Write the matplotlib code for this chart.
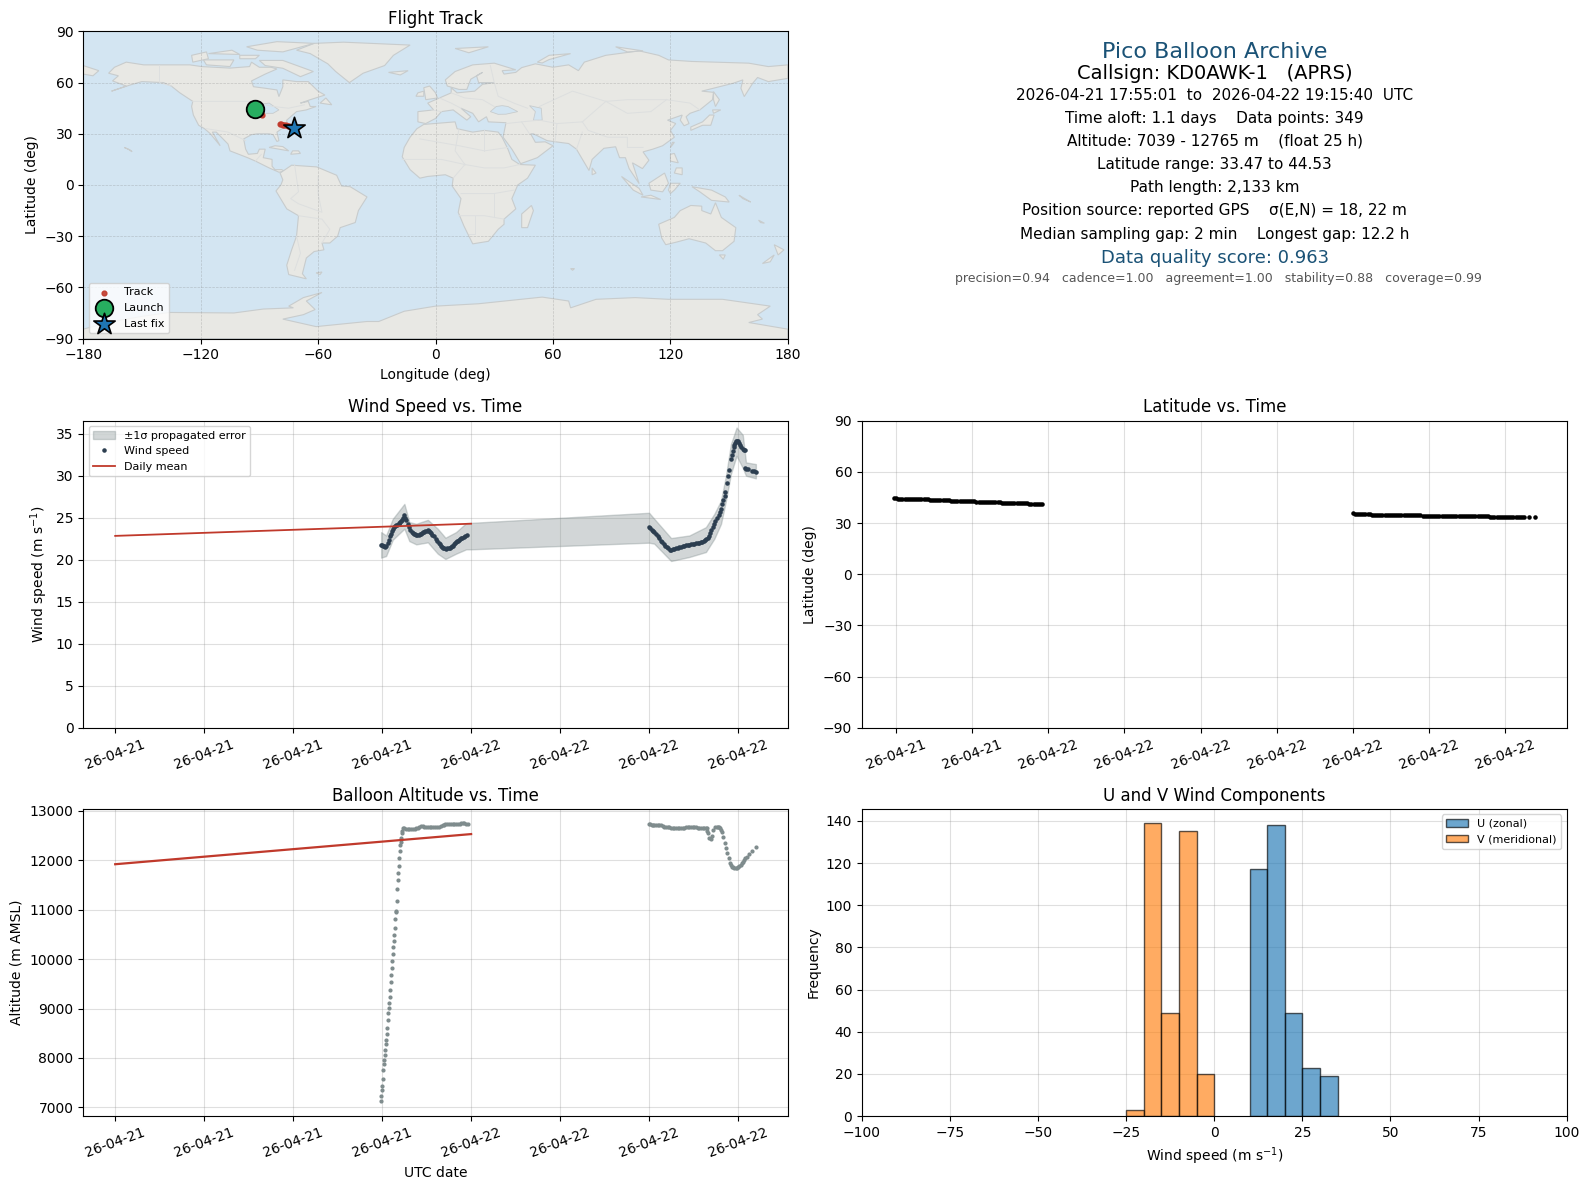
import matplotlib
matplotlib.use('Agg')
import matplotlib.pyplot as plt
import matplotlib.dates as mdates
from datetime import datetime, timedelta

# time is given in minutes after 2026-04-21 18:00 UTC
base = datetime(2026, 4, 21, 18, 0)
midnight_21 = datetime(2026, 4, 21)
midnight_22 = datetime(2026, 4, 22)

# wind speed
wind_t = [-5, -1, 3, 8, 13, 17, 22, 26, 30, 34,
          39, 44, 50, 54, 58, 62, 67, 70, 74, 78,
          81, 85, 90, 94, 98, 103, 108, 114, 119, 123,
          128, 133, 138, 143, 148, 153, 158, 162, 167, 171,
          175, 181, 187, 191, 195, 199, 202, 209, 216, 222,
          229, 233, 237, 241, 245, 251, 257, 263, 270, 274,
          278, 282, 286, 290, 294, 298, 302, 306, 310, 314,
          319, 324, 330, 336, 342,
          1080, 1085, 1091, 1096, 1101, 1108, 1115, 1121, 1128, 1134,
          1140, 1146, 1152, 1158, 1165, 1170, 1176, 1182, 1189, 1196,
          1203, 1210, 1216, 1223, 1230, 1236, 1243, 1250, 1256, 1263,
          1270, 1276, 1283, 1290, 1296, 1301, 1306, 1312, 1317, 1322,
          1328, 1332, 1337, 1342, 1348, 1355, 1361, 1366, 1371, 1376,
          1380, 1386, 1388, 1394, 1398, 1403, 1410, 1414, 1418, 1422,
          1425, 1428, 1432, 1435, 1438, 1443, 1448, 1453, 1459, 1464,
          1469, 1470, 1474, 1479, 1496, 1504, 1512]
wind_v = [21.8, 21.75, 21.7, 21.6, 21.5, 21.7, 22.0, 22.4, 22.8, 23.1,
          23.4, 23.65, 23.9, 24.0, 24.1, 24.2, 24.3, 24.4, 24.5, 24.6,
          24.75, 25.0, 25.3, 25.0, 24.7, 24.3, 23.9, 23.6, 23.3, 23.2,
          23.1, 23.05, 23.0, 23.0, 23.0, 23.05, 23.1, 23.2, 23.3, 23.35,
          23.4, 23.45, 23.5, 23.4, 23.3, 23.15, 23.0, 22.8, 22.5, 22.3,
          22.0, 21.85, 21.7, 21.55, 21.4, 21.35, 21.3, 21.35, 21.4, 21.45,
          21.5, 21.6, 21.7, 21.85, 22.0, 22.1, 22.2, 22.3, 22.4, 22.5,
          22.6, 22.65, 22.75, 22.8, 22.9,
          23.9, 23.75, 23.6, 23.45, 23.3, 23.05, 22.8, 22.55, 22.3, 22.1,
          21.9, 21.7, 21.5, 21.35, 21.2, 21.2, 21.25, 21.3, 21.35, 21.45,
          21.5, 21.55, 21.65, 21.7, 21.75, 21.8, 21.8, 21.85, 21.9, 21.9,
          21.95, 22.0, 22.0, 22.1, 22.15, 22.2, 22.35, 22.5, 22.6, 22.85,
          23.2, 23.5, 23.9, 24.25, 24.6, 24.95, 25.3, 25.7, 26.1, 26.6,
          27.1, 27.6, 28.1, 29.2, 30.0, 30.7, 32.0, 32.5, 33.0, 33.4,
          33.7, 33.9, 34.1, 34.1, 34.1, 33.9, 33.7, 33.45, 33.2, 33.1,
          33.1, 30.9, 30.85, 30.8, 30.6, 30.55, 30.5]
band_t = [-4, 16, 43, 90, 110, 138, 185, 225, 256, 299, 340, 360,
          1080, 1101, 1169, 1243, 1310, 1344, 1371, 1391, 1411, 1434, 1459, 1472, 1512]
band_low = [20.26, 20.45, 22.39, 23.7, 22.23, 21.84, 22.08, 20.73, 20.1, 20.73, 21.25, 21.25,
            22.04, 21.92, 19.86, 20.34, 20.93, 22.51, 24.29, 27.06, 30.22, 32.39, 30.93, 30.02, 29.7]
band_high = [23.3, 22.9, 24.88, 26.66, 24.49, 24.29, 24.76, 23.7, 22.63, 23.3, 24.37, 24.4,
             25.6, 24.88, 22.59, 22.9, 23.89, 25.47, 27.06, 30.02, 33.77, 35.75, 34.88, 31.6, 31.4]
wind_daily = [22.85, 24.3]

# latitude
lat_t = [-5, 0, 5, 10, 15, 20, 25, 30, 35, 40,
         45, 50, 55, 60, 65, 70, 75, 80, 85, 90,
         95, 100, 105, 110, 115, 120, 125, 130, 135, 140,
         145, 150, 155, 160, 165, 170, 175, 180, 185, 190,
         195, 200, 205, 210, 215, 220, 225, 230, 235, 240,
         245, 250, 255, 260, 265, 270, 275, 280, 285, 290,
         295, 300, 305, 310, 315, 320, 325, 330, 335, 340,
         345,
         1080, 1085, 1090, 1095, 1100, 1105, 1110, 1115, 1120, 1125,
         1130, 1135, 1140, 1145, 1150, 1155, 1160, 1165, 1170, 1175,
         1180, 1185, 1190, 1195, 1200, 1205, 1210, 1215, 1220, 1225,
         1230, 1235, 1240, 1245, 1250, 1255, 1260, 1265, 1270, 1275,
         1280, 1285, 1290, 1295, 1300, 1305, 1310, 1315, 1320, 1325,
         1330, 1335, 1340, 1345, 1350, 1355, 1360, 1365, 1370, 1375,
         1380, 1385, 1390, 1395, 1400, 1405, 1410, 1415, 1420, 1425,
         1430, 1435, 1440, 1445, 1450, 1455, 1460, 1465, 1470, 1475,
         1480, 1484, 1497, 1510]
lat_v = [44.53, 44.4, 44.2, 44.2, 44.2, 44.2, 44.2, 44.1, 44.1, 44.1,
         44.1, 44.1, 44.1, 44.1, 44.1, 44.1, 44.0, 43.6, 43.6, 43.6,
         43.6, 43.6, 43.6, 43.6, 43.5, 43.5, 43.5, 43.1, 43.0, 43.0,
         43.0, 43.0, 43.0, 43.0, 43.0, 43.0, 42.9, 42.9, 42.9, 42.6,
         42.4, 42.4, 42.4, 42.4, 42.4, 42.4, 42.4, 42.4, 42.4, 42.4,
         42.2, 41.9, 41.8, 41.8, 41.8, 41.8, 41.8, 41.8, 41.8, 41.8,
         41.8, 41.8, 41.8, 41.5, 41.3, 41.2, 41.2, 41.2, 41.2, 41.2,
         41.1,
         35.6, 35.5, 35.5, 35.5, 35.5, 35.5, 35.5, 35.5, 35.2, 34.9,
         34.9, 34.9, 34.9, 34.9, 34.9, 34.9, 34.9, 34.9, 34.9, 34.9,
         34.9, 34.9, 34.9, 34.9, 34.9, 34.9, 34.9, 34.9, 34.9, 34.9,
         34.9, 34.8, 34.5, 34.3, 34.3, 34.3, 34.3, 34.3, 34.3, 34.3,
         34.3, 34.3, 34.3, 34.3, 34.3, 34.3, 34.3, 34.3, 34.3, 34.3,
         34.3, 34.3, 34.3, 34.3, 34.3, 34.3, 34.3, 34.3, 34.3, 34.3,
         34.3, 34.3, 34.3, 34.2, 33.9, 33.6, 33.5, 33.5, 33.5, 33.5,
         33.5, 33.5, 33.5, 33.5, 33.5, 33.5, 33.5, 33.5, 33.5, 33.5,
         33.5, 33.5, 33.5, 33.47]

# altitude
alt_t = [-5, -3, -1, 1, 3, 5, 7, 9, 11, 13, 15, 17, 19, 21, 23, 25, 27, 29, 31, 33, 35, 37, 39, 41, 43, 45, 47, 49, 51,
         53, 55, 57, 59, 61, 63, 65, 67, 69, 71, 73, 75, 77, 79, 81,
         83, 90, 97, 104, 110, 117, 124, 131, 138, 144, 151, 158, 165, 171, 178, 185, 192, 198, 205, 212, 222, 232,
         238, 245, 250, 256, 264, 272, 279, 286, 292, 299, 306, 313, 319, 326, 333, 340, 346,
         1080, 1085, 1091, 1096, 1101, 1108, 1115, 1121, 1128, 1135,
         1142, 1148, 1155, 1162, 1169, 1175, 1182, 1189, 1196, 1202,
         1209, 1216, 1223, 1230, 1236, 1243, 1250, 1256, 1263, 1270,
         1277, 1283, 1290, 1297, 1304, 1309, 1313, 1315,
         1318, 1323, 1330, 1335, 1340, 1348, 1353, 1358, 1362, 1367,
         1371, 1375, 1380, 1386, 1391, 1397, 1402, 1407, 1411, 1415,
         1420, 1425, 1430, 1434, 1440, 1445, 1450, 1456, 1460, 1465,
         1470, 1475, 1486, 1496, 1512]
alt_v = [7121, 7230, 7344, 7439, 7581, 7763, 7885, 7966, 8067, 8169, 8277, 8371, 8480, 8615, 8777, 8919, 9020, 9122, 9243,
         9385, 9527, 9669, 9811, 9953, 10094, 10236, 10365, 10480, 10622, 10804, 10946, 10966, 11169, 11412, 11595,
         11736, 11885, 12047, 12182, 12304, 12378, 12446, 12547, 12600,
         12649, 12649, 12635, 12628, 12628, 12628, 12628, 12628, 12645, 12662, 12675, 12689, 12685, 12682, 12682, 12682, 12682,
         12682, 12680, 12676, 12672, 12669, 12690, 12709, 12720, 12730, 12730, 12730, 12730, 12730, 12736, 12743, 12743, 12743,
         12750, 12757, 12750, 12737, 12730,
         12737, 12730, 12723, 12716, 12709, 12712, 12716, 12716, 12716, 12700,
         12682, 12675, 12669, 12665, 12662, 12658, 12655, 12658, 12662, 12658,
         12655, 12658, 12662, 12665, 12669, 12672, 12676, 12672, 12669, 12665,
         12662, 12658, 12655, 12652, 12649, 12649, 12649, 12600,
         12547, 12459, 12439, 12500, 12615, 12676, 12680, 12682, 12670, 12649,
         12610, 12568, 12480, 12345, 12243, 12142, 12054, 11939, 11905, 11872,
         11855, 11838, 11838, 11838, 11860, 11885, 11910, 11939, 11970, 12007,
         12040, 12074, 12122, 12189, 12277]
alt_daily = [11920, 12530]

# map track
track_lon = [-92.4, -91.6, -90.8, -90.0, -89.2, -88.4, -79.5, -78.8, -78.0, -77.2, -76.4, -75.6, -74.8, -74.0, -73.2, -72.3]
track_lat = [44.5, 43.9, 43.2, 42.6, 42.0, 41.2, 35.6, 35.5, 35.4, 35.1, 34.9, 34.6, 34.4, 34.2, 33.8, 33.47]
launch = (-92.4, 44.5)
last_fix = (-72.3, 33.47)

# histogram
u_bin_left = [10, 15, 20, 25, 30]
u_counts = [117, 138, 49, 23, 19]
v_bin_left = [-25, -20, -15, -10, -5]
v_counts = [3, 139, 49, 135, 20]

# rough coastlines (lon, lat)
land = [
    # North and Central America
    [(-167,65.5),(-164,69),(-158,72),(-149,70.4),(-141,70.4),(-125.5,70.4),(-119.5,69.4),(-105,68.5),(-95,69.4),(-94,72),(-90,69),(-84,69),(-81,68),(-87,65),(-94,61),(-93,57.6),(-87,56.7),(-81,55.7),(-80,51.8),(-78,57.6),(-78,61.6),(-71,60.6),(-65,60.6),(-60,55),(-56.5,52.7),(-64,50),(-69,48),(-65,49),(-64,46),(-61,46),(-66,44),(-71,43),(-74,40),(-76,38),(-76,35),(-81,31),(-80,26),(-81,25.5),(-83,29.5),(-85,30),(-91,30),(-94,29.5),(-98,27),(-97,21),(-95.6,18),(-91,18.5),(-90,21),(-87,21),(-88,16),(-83.5,15),(-83.5,11),(-82,9),(-78.6,9),(-77,8),(-80,7.5),(-85,10),(-92,14),(-96,16),(-105,20),(-106,24),(-112,31),(-114,31),(-110,23),(-115,30),(-118,33),(-121,35),(-123.7,41),(-124.6,46),(-124,49),(-130.6,54),(-135,58),(-139,60),(-150,60.6),(-156,58.6),(-165.5,55),(-158,58),(-165,61),(-162,64)],
    # Greenland and the arctic islands
    [(-71,79),(-62,83),(-47,83.7),(-13,82),(-21.5,76),(-26,70),(-37,65.5),(-44,60),(-51,66.5),(-55,71),(-64,77)],
    [(-90,73),(-78,73),(-62.4,66.5),(-69,63.5),(-78,68.4),(-87,70)],
    [(-118.6,73.3),(-103,73.3),(-105,69.4),(-117,70.4)],
    [(-124.6,76),(-117,78),(-116,74),(-124,72)],
    [(-96.5,81),(-81,84),(-62,83),(-78,78),(-91,79)],
    [(-100,76),(-90,76),(-92,74),(-100,74)],
    [(-116,77),(-104,79),(-100,76.5)],
    [(-59,48),(-53,47),(-56,51)],
    [(-85,22),(-75,20),(-78,22.5),(-82,23)],
    [(-74,18),(-69,18.5),(-70,20),(-73,20)],
    [(-159,22),(-157,21),(-155,19.5),(-156,20.5)],
    # South America
    [(-79.4,7),(-73.5,11.6),(-60.7,10.6),(-50.5,5.7),(-48,-0.6),(-43.6,-1),(-35,-7),(-39.4,-15),(-41,-22),(-48.7,-25),(-50,-30),(-54,-34),(-58,-34),(-57,-38),(-62,-39),(-66,-42.8),(-68,-52),(-66,-55),(-75,-52.5),(-76,-47),(-73.5,-38),(-71,-30),(-70,-18),(-76,-14),(-81.5,-3.5),(-79,0),(-78,3)],
    # Africa
    [(-6,35.5),(10,37),(11,33),(19,31),(25,32),(32,31),(34,28),(37,21),(39,15),(43,12),(51,11.6),(47,4),(42,0),(39,-8),(41,-14),(35,-20),(35,-23),(32,-26),(27,-33),(19,-34.5),(14.5,-24),(11.6,-16),(13,-8),(8.5,-0.6),(9,4),(5,6),(-4,5),(-8,4),(-13,9),(-17,16.5),(-16,22),(-13,28),(-9.5,33)],
    # Eurasia
    [(-9,37),(-9,43),(-1,44),(-4,48),(2,51),(8,54),(8,57),(11,54),(20,55),(24,59),(30,60),(22,60),(21,64),(24,66),(18,62),(16,56),(12,56),(6,58),(5,61.6),(10,66.5),(19,70.4),(30,71.4),(41,67.5),(34,67),(35,65),(41,66),(44,68.8),(51,71),(60,69),(68,70.4),(73,67),(76,72),(87,76),(104,78.6),(114,76),(119,73.3),(131,72.4),(160,71.4),(170,69.4),(180,70.4),(180,62.5),(170,60.6),(164.5,63),(162,59.6),(157.7,51.8),(156,56.7),(157,61.6),(152,59.6),(136,55),(142,54.3),(141.5,50),(135,44),(130,42),(128,40),(129.5,36),(127,34.7),(125,38),(126,41),(118.5,38),(122.7,36),(120,32),(122,28),(116,23),(111,21),(106,19.4),(109,14.5),(105.7,9.6),(100.6,13),(104,0.8),(98.9,9.6),(97,16),(94,16),(92,22.4),(86,21.5),(80,15),(78.4,8.5),(73,19),(72,21),(68,24.3),(60,25.5),(57,26),(50,30),(48.6,30),(51,25),(56,25.3),(60,23),(52,16),(43.5,12.5),(39,21),(34.5,28),(36,36.5),(27,37),(26,40),(22,37),(19,42),(13,45),(18,40),(16,38),(9,44),(3,43),(0,39),(-5,36)],
    [(-180,70),(-172,67),(-175,64),(-180,65)],
    [(-5,50),(1,51),(0,54),(-3,58),(-6,57)],
    [(-10,52),(-6,52),(-6,55),(-9,54)],
    [(-24,66),(-14,67),(-18,64.5)],
    [(10,80),(27,81),(17,77.5)],
    [(52,72),(58,76),(69,77),(58,73.5),(54.5,71.5)],
    [(92,81),(106,78.6),(98,78)],
    [(130.4,32),(136.4,35),(140.6,35),(142.3,41),(140,41),(136.4,37),(130.4,34)],
    [(141.5,44),(145.7,44),(142,42)],
    [(142,54.7),(145,50),(143,46),(142,50)],
    [(120,22),(122,25),(121,25)],
    [(120,14),(124,13),(122,18.5),(120,18)],
    [(122,7),(126,6),(126,10),(123,10)],
    [(80,6),(82,7),(80,10)],
    [(109,1),(117,7),(119,1),(116,-4),(110,-3)],
    [(95,5),(104,-2),(106,-6),(101,-3)],
    [(105,-7),(115,-8.5),(110,-6)],
    [(120,-5),(122,-3),(125,1),(120,1),(119,-3)],
    [(131,-1),(141,-3),(148,-7),(150,-10),(141,-9),(135,-4)],
    [(155,-6),(161,-10),(157,-8)],
    [(165,-20.6),(168,-22.4),(166,-22)],
    # Australia and around
    [(114,-23),(122,-19),(125,-15),(130.4,-12),(136,-12.4),(136,-15),(140.6,-17),(143,-10.4),(146,-19),(153.4,-25),(152.5,-33),(146.6,-38.5),(143,-38.5),(138,-34),(129.5,-31.5),(123,-33.5),(117.6,-35),(115.5,-31)],
    [(145,-41),(148,-41),(147,-43.5)],
    [(173,-35),(178,-38),(175,-41)],
    [(167,-46),(173,-41),(171,-45)],
    [(44,-25),(47,-25),(50,-15),(49,-12),(44,-17)],
    [(-61,-51.5),(-58,-51),(-59,-52.5)],
    [(69,-49),(71,-49),(70,-50)],
    # Antarctica
    [(-180,-90),(180,-90),(180,-84.5),(160,-80.6),(167,-78.6),(164.5,-76),(171,-71),(146.6,-67),(119,-67),(102,-66),(82,-67),(69,-72),(68,-68),(54.5,-65.7),(22,-69.6),(0,-71),(-16,-74),(-29,-80),(-35,-80),(-61,-83),(-78,-78.6),(-67.5,-76),(-61.5,-73),(-66,-68),(-58,-63),(-67.5,-66),(-75,-71),(-72.6,-72),(-88,-72.7),(-103,-75),(-136,-74.7),(-150,-77),(-165,-80),(-180,-84.5)],
]
water = [
    [(28,43),(31,46),(34,46.5),(37,46),(42,43),(36,41.5),(32,41.4)],
    [(48,46.5),(54,45),(54.5,38),(50,38),(51,43)],
    [(-92,47),(-85,48),(-80,44),(-83,42),(-87,42)],
]
borders = [
    [(-124,49),(-95,49),(-83,46),(-75,45),(-67,47)],
    [(-141,70),(-141,60),(-135,58)],
    [(-117,33),(-106,31),(-97,26)],
    [(-92,14),(-89,18)],
    [(-70,-18),(-58,-20),(-54,-26),(-58,-34)],
    [(-72,12),(-70,-4),(-74,-8),(-70,-11),(-58,-16),(-60,-5),(-60,5)],
    [(-71,-30),(-69,-40),(-72,-50)],
    [(-8,27),(12,23),(25,20),(37,22)],
    [(12,33),(10,20),(15,12),(25,10),(35,10),(43,12)],
    [(-17,15),(3,15),(15,12)],
    [(25,32),(25,20)],
    [(9,4),(15,12)],
    [(13,-5),(30,-5),(40,-3)],
    [(12,-18),(25,-18),(35,-20)],
    [(20,-18),(20,-29),(17,-29)],
    [(30,-5),(30,-18)],
    [(-2,44),(3,43)],
    [(2,51),(8,48),(13,45)],
    [(8,54),(15,51),(24,50),(30,46)],
    [(28,70),(30,60),(32,52),(40,48),(47,45)],
    [(53,46),(70,55),(87,49),(98,50),(118,50),(130,48),(135,44)],
    [(53,38),(62,36),(75,37),(80,42),(87,49)],
    [(87,49),(98,42),(110,43),(118,50)],
    [(75,37),(78,32),(88,28),(98,28),(98,22),(106,22)],
    [(36,36),(44,37),(48,30)],
    [(44,37),(53,38)],
    [(62,36),(61,25)],
    [(72,21),(75,31)],
]

sea_color = '#d3e5f2'
land_color = '#e8e8e4'
coast_color = '#c8cccd'
red = '#c0392b'


def to_times(minutes):
    return [base + timedelta(minutes=m) for m in minutes]


def style_time_axis(ax, hours):
    ax.xaxis.set_major_locator(mdates.HourLocator(byhour=range(0, 24, hours)))
    ax.xaxis.set_major_formatter(mdates.DateFormatter('%y-%m-%d'))
    ax.tick_params(axis='x', labelrotation=20)
    ax.grid(True, color='#808080', alpha=0.25, linewidth=0.8)
    ax.set_axisbelow(True)


fig = plt.figure(figsize=(15.9, 11.89), dpi=100)
W = 1568.0
H = 1173.0


def add_axes(x0, y0, x1, y1):
    return fig.add_axes([x0 / W, 1 - y1 / H, (x1 - x0) / W, (y1 - y0) / H])


################################
#          Flight Track        #
################################
ax = add_axes(82, 31, 777, 334)
ax.set_facecolor(sea_color)
for poly in land:
    ax.fill([p[0] for p in poly], [p[1] for p in poly], facecolor=land_color, edgecolor=coast_color, linewidth=0.8, zorder=1)
for poly in water:
    ax.fill([p[0] for p in poly], [p[1] for p in poly], facecolor=sea_color, edgecolor=coast_color, linewidth=0.6, zorder=1.1)
for line in borders:
    ax.plot([p[0] for p in line], [p[1] for p in line], color='#dddfdf', linewidth=0.7, zorder=1.2)
ax.scatter(track_lon, track_lat, s=12, color=red, alpha=0.9, zorder=3, label='Track')
ax.scatter(*launch, s=160, color='#27ae60', edgecolor='black', linewidth=1.3, zorder=4, label='Launch')
ax.scatter(*last_fix, s=260, marker='*', color='#1f77b4', edgecolor='black', linewidth=1.2, zorder=5, label='Last fix')
ax.set_xlim(-180, 180)
ax.set_ylim(-90, 90)
ax.set_xticks(range(-180, 181, 60))
ax.set_yticks(range(-90, 91, 30))
ax.grid(True, color='#808080', alpha=0.35, linewidth=0.5, linestyle='--', zorder=2)
ax.set_xlabel('Longitude (deg)')
ax.set_ylabel('Latitude (deg)')
ax.set_title('Flight Track', pad=5.4)
ax.legend(loc='lower left', fontsize=8, framealpha=0.8)

################################
#         Summary text         #
################################
cx = 1198
info = [
    (51, 'Pico Balloon Archive', 16, '#1a5276', 0),
    (73, 'Callsign: KD0AWK-1   (APRS)', 14, 'black', 0),
    (94, '2026-04-21 17:55:01  to  2026-04-22 19:15:40  UTC', 11, 'black', 0),
    (117, 'Time aloft: 1.1 days    Data points: 349', 11, 'black', 0),
    (139, 'Altitude: 7039 - 12765 m    (float 25 h)', 11, 'black', 0),
    (162, 'Latitude range: 33.47 to 44.53', 11, 'black', 0),
    (185, 'Path length: 2,133 km', 11, 'black', 0),
    (208, 'Position source: reported GPS    σ(E,N) = 18, 22 m', 11, 'black', 0),
    (231, 'Median sampling gap: 2 min    Longest gap: 12.2 h', 11, 'black', 0),
    (255, 'Data quality score: 0.963', 13, '#1a5276', 0),
    (275, 'precision=0.94   cadence=1.00   agreement=1.00   stability=0.88   coverage=0.99', 9, '#555555', 3.5),
]
for y, txt, size, col, dx in info:
    fig.text((cx + dx) / W, 1 - y / H, txt, ha='center', va='center', fontsize=size, color=col)

################################
#        Wind Speed panel      #
################################
ax = add_axes(82, 415, 777, 718)
ax.fill_between(to_times(band_t), band_low, band_high, color='#7f8c8d', alpha=0.35, label='±1σ propagated error')
ax.plot(to_times(wind_t), wind_v, '.', color='#2c3e50', markersize=4.5, label='Wind speed')
ax.plot([midnight_21, midnight_22], wind_daily, color=red, linewidth=1.3, label='Daily mean')
ax.set_ylim(0, 36.57)
ax.set_yticks(range(0, 36, 5))
ax.set_ylabel('Wind speed (m s$^{-1}$)')
ax.set_title('Wind Speed vs. Time')
style_time_axis(ax, 6)
ax.legend(loc='upper left', fontsize=8)

################################
#         Latitude panel       #
################################
ax = add_axes(850, 415, 1545, 718)
ax.plot(to_times(lat_t), lat_v, '.', color='black', markersize=4.5)
ax.set_ylim(-90, 90)
ax.set_yticks(range(-90, 91, 30))
ax.set_ylabel('Latitude (deg)')
ax.set_title('Latitude vs. Time')
style_time_axis(ax, 3)

################################
#         Altitude panel       #
################################
ax = add_axes(82, 798, 777, 1101)
ax.plot(to_times(alt_t), alt_v, '.', color='#7f8c8d', markersize=4)
ax.plot([midnight_21, midnight_22], alt_daily, color=red, linewidth=1.6)
ax.set_ylim(6825, 13040)
ax.set_ylabel('Altitude (m AMSL)')
ax.set_xlabel('UTC date')
ax.set_title('Balloon Altitude vs. Time')
style_time_axis(ax, 6)

################################
#        Wind components       #
################################
ax = add_axes(850, 798, 1545, 1101)
ax.bar(u_bin_left, u_counts, width=5, align='edge', color='#1f77b4', alpha=0.65, edgecolor='black', label='U (zonal)')
ax.bar(v_bin_left, v_counts, width=5, align='edge', color='#ff7f0e', alpha=0.65, edgecolor='black', label='V (meridional)')
ax.set_xlim(-100, 100)
ax.set_ylim(0, 145.7)
ax.set_xlabel('Wind speed (m s$^{-1}$)')
ax.set_ylabel('Frequency')
ax.set_title('U and V Wind Components')
ax.grid(True, color='#808080', alpha=0.25, linewidth=0.8)
ax.set_axisbelow(True)
ax.legend(loc='upper right', fontsize=8)

fig.savefig('out.png', dpi=100)
